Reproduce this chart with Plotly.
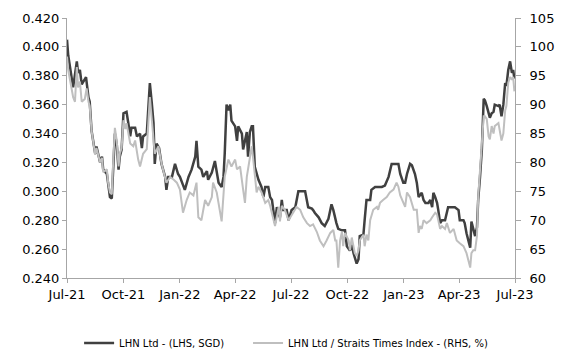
import pandas as pd
import plotly.graph_objects as go

# days since 1 Jul 2021
lhn_days = [0, 2, 10, 16, 18, 21, 24, 31, 35, 37, 40, 43, 46, 48, 54, 57, 59, 65, 67, 70,
            73, 75, 78, 81, 84, 86, 89, 92, 97, 100, 103, 105, 111, 114, 119, 122, 124, 130, 132, 135,
            138, 141, 143, 146, 150, 154, 160, 162, 165, 171, 176, 181, 184, 187, 192, 198, 203, 209, 211, 214,
            219, 222, 228, 230, 236, 241, 244, 247, 252, 255, 257, 260, 263, 266, 268, 274, 277, 279, 285, 287,
            290, 293, 295, 298, 301, 303, 306, 312, 317, 320, 323, 328, 331, 334, 339, 342, 347, 350, 352, 358,
            361, 366, 372, 374, 377, 382, 388, 393, 399, 401, 404, 410, 415, 420, 426, 431, 434, 439, 442, 448,
            453, 456, 461, 464, 467, 472, 475, 477, 483, 485, 488, 494, 496, 502, 513, 518, 524, 529, 540, 543,
            548, 551, 554, 559, 562, 567, 570, 573, 578, 581, 584, 589, 592, 595, 597, 600, 603, 605, 608, 611,
            616, 621, 627, 632, 638, 640, 646, 648, 651, 654, 657, 659, 662, 665, 668, 670, 673, 676, 679, 681,
            684, 687, 689, 692, 695, 697, 703, 705, 708, 711, 714, 716, 719, 722, 725, 727, 729]
lhn_price = [0.405, 0.394, 0.372, 0.390, 0.382, 0.384, 0.374, 0.379, 0.365, 0.362, 0.342, 0.335, 0.326, 0.331, 0.320, 0.324, 0.315, 0.312, 0.306, 0.296,
             0.295, 0.315, 0.340, 0.333, 0.315, 0.324, 0.329, 0.354, 0.355, 0.347, 0.338, 0.344, 0.344, 0.338, 0.340, 0.330, 0.338, 0.340, 0.356, 0.375,
             0.362, 0.347, 0.319, 0.333, 0.330, 0.319, 0.310, 0.301, 0.310, 0.310, 0.319, 0.312, 0.310, 0.306, 0.301, 0.310, 0.315, 0.324, 0.335, 0.317,
             0.315, 0.310, 0.314, 0.308, 0.313, 0.321, 0.312, 0.306, 0.303, 0.310, 0.326, 0.360, 0.356, 0.360, 0.349, 0.345, 0.335, 0.345, 0.340, 0.329,
             0.335, 0.341, 0.324, 0.341, 0.345, 0.345, 0.317, 0.308, 0.303, 0.296, 0.303, 0.303, 0.296, 0.294, 0.278, 0.289, 0.282, 0.294, 0.287, 0.287,
             0.280, 0.287, 0.289, 0.294, 0.300, 0.300, 0.300, 0.289, 0.288, 0.287, 0.285, 0.282, 0.278, 0.276, 0.281, 0.291, 0.287, 0.278, 0.274, 0.273,
             0.273, 0.262, 0.259, 0.263, 0.257, 0.250, 0.253, 0.269, 0.270, 0.280, 0.294, 0.294, 0.301, 0.303, 0.303, 0.304, 0.310, 0.319, 0.319, 0.312,
             0.306, 0.306, 0.312, 0.319, 0.318, 0.312, 0.306, 0.296, 0.299, 0.294, 0.292, 0.292, 0.294, 0.289, 0.299, 0.296, 0.292, 0.287, 0.278, 0.280,
             0.280, 0.289, 0.289, 0.289, 0.287, 0.280, 0.280, 0.278, 0.271, 0.266, 0.261, 0.279, 0.273, 0.269, 0.275, 0.294, 0.310, 0.329, 0.364, 0.363,
             0.359, 0.353, 0.351, 0.354, 0.355, 0.360, 0.359, 0.360, 0.352, 0.360, 0.375, 0.373, 0.384, 0.390, 0.382, 0.384, 0.378]

rel_days = [0, 2, 10, 13, 16, 18, 21, 24, 29, 32, 35, 37, 40, 43, 46, 48, 54, 57, 59, 65,
            67, 70, 73, 75, 78, 81, 84, 86, 89, 92, 95, 97, 103, 108, 111, 116, 119, 124, 130, 135,
            138, 143, 149, 154, 162, 168, 174, 179, 184, 187, 189, 195, 200, 206, 211, 214, 219, 225, 230, 236,
            238, 244, 249, 252, 257, 263, 268, 274, 277, 282, 287, 290, 293, 295, 301, 303, 306, 309, 312, 317,
            323, 328, 331, 336, 339, 345, 347, 350, 355, 361, 366, 369, 374, 380, 385, 391, 396, 401, 407, 412,
            418, 423, 429, 434, 437, 439, 442, 445, 448, 450, 453, 459, 461, 464, 469, 472, 475, 477, 483, 485,
            488, 491, 494, 499, 505, 507, 510, 515, 521, 526, 532, 537, 540, 543, 548, 551, 554, 559, 565, 570,
            573, 575, 578, 581, 586, 592, 595, 600, 603, 605, 608, 611, 616, 619, 624, 630, 635, 640, 646, 651,
            654, 657, 659, 662, 665, 668, 670, 673, 676, 679, 681, 684, 687, 689, 692, 695, 697, 703, 708, 711,
            714, 716, 719, 722, 725, 727, 729]
rel_sti = [98.3, 96.0, 91.3, 90.5, 96.5, 93.0, 94.0, 90.5, 91.0, 92.8, 90.5, 89.8, 85.5, 83.3, 81.3, 82.5, 80.0, 80.8, 78.3, 78.8,
           76.5, 74.8, 74.5, 79.5, 86.0, 83.8, 79.3, 81.5, 82.5, 87.3, 85.8, 86.8, 83.3, 82.8, 83.8, 80.5, 79.3, 81.5, 82.3, 91.3,
           87.0, 81.5, 82.8, 79.8, 76.5, 77.5, 77.0, 76.5, 75.3, 73.0, 71.3, 73.5, 74.8, 74.3, 76.5, 70.5, 70.0, 73.5, 72.5, 74.0,
           76.5, 74.8, 71.3, 69.8, 77.5, 80.5, 79.3, 80.5, 78.8, 79.3, 75.3, 73.0, 77.5, 78.8, 82.8, 81.0, 77.5, 74.8, 75.8, 74.8,
           73.0, 73.5, 72.5, 70.5, 69.0, 72.3, 69.8, 72.5, 71.8, 70.0, 70.8, 71.3, 72.3, 71.8, 70.5, 69.5, 69.0, 69.3, 68.0, 66.5,
           65.5, 66.5, 67.8, 68.3, 66.5, 66.5, 61.8, 66.5, 68.0, 65.5, 67.8, 66.5, 64.8, 67.0, 64.3, 63.8, 64.8, 66.5, 67.5, 65.5,
           67.5, 66.5, 70.0, 71.8, 72.3, 71.8, 73.0, 73.5, 74.0, 74.8, 75.3, 76.5, 75.8, 74.3, 73.0, 72.3, 74.8, 74.0, 71.8, 71.8,
           67.8, 69.0, 68.5, 70.0, 69.5, 70.0, 70.5, 71.3, 71.0, 70.0, 68.5, 69.0, 68.5, 69.5, 67.8, 68.5, 66.5, 66.0, 65.5, 64.3,
           63.0, 61.8, 64.3, 64.8, 64.8, 67.3, 74.0, 78.8, 83.5, 88.0, 88.0, 87.5, 84.5, 84.0, 86.3, 85.0, 86.3, 86.8, 83.8, 85.0,
           89.0, 89.8, 93.8, 94.8, 94.3, 94.8, 92.3]

start = pd.Timestamp("2021-07-01")
lhn_dates = start + pd.to_timedelta(lhn_days, unit="D")
rel_dates = start + pd.to_timedelta(rel_days, unit="D")

tick_dates = ["2021-07-01", "2021-10-01", "2022-01-01", "2022-04-01", "2022-07-01",
              "2022-10-01", "2023-01-01", "2023-04-01", "2023-07-01"]
tick_labels = ["Jul-21", "Oct-21", "Jan-22", "Apr-22", "Jul-22",
               "Oct-22", "Jan-23", "Apr-23", "Jul-23"]

DARK = "#404040"
LIGHT = "#bfbfbf"
AX = "#a6a6a6"
FONT = "DejaVu Sans"

fig = go.Figure()
fig.add_trace(go.Scatter(x=lhn_dates, y=lhn_price, mode="lines", name="LHN Ltd - (LHS, SGD)",
                         line=dict(color=DARK, width=2.5), yaxis="y", legend="legend"))
fig.add_trace(go.Scatter(x=rel_dates, y=rel_sti, mode="lines",
                         name="LHN Ltd / Straits Times Index - (RHS, %)",
                         line=dict(color=LIGHT, width=2), yaxis="y2", legend="legend2"))

leg_common = dict(orientation="h", xref="container", yref="container",
                  xanchor="left", y=0.017, yanchor="middle",
                  font=dict(size=10, family=FONT), itemwidth=30,
                  bgcolor="rgba(0,0,0,0)")

fig.update_layout(
    width=565, height=349,
    margin=dict(l=67, r=50, t=18, b=71, autoexpand=False),
    paper_bgcolor="white", plot_bgcolor="white",
    font=dict(family=FONT, size=13, color="#000000"),
    showlegend=True,
    legend=dict(x=0.140, **leg_common),
    legend2=dict(x=0.439, **leg_common),
    xaxis=dict(type="date", range=["2021-07-01", "2023-07-01"], tickvals=tick_dates,
               ticktext=tick_labels, showgrid=False, zeroline=False,
               showline=True, linecolor=AX, linewidth=1, ticks="outside",
               ticklen=4, tickcolor=AX, tickfont=dict(size=13)),
    yaxis=dict(range=[0.240, 0.420], tickvals=[0.24 + 0.02 * i for i in range(10)],
               tickformat=".3f", showgrid=False, zeroline=False, showline=True,
               linecolor=AX, linewidth=1, ticks="outside", ticklen=4, tickcolor=AX,
               tickfont=dict(size=13)),
    yaxis2=dict(range=[60, 105], tickvals=list(range(60, 106, 5)), overlaying="y",
                side="right", showgrid=False, zeroline=False, showline=True,
                linecolor=AX, linewidth=1, ticks="outside", ticklen=5, tickcolor=AX,
                ticklabelstandoff=6, tickfont=dict(size=13)),
)

fig.write_html("out.html")
